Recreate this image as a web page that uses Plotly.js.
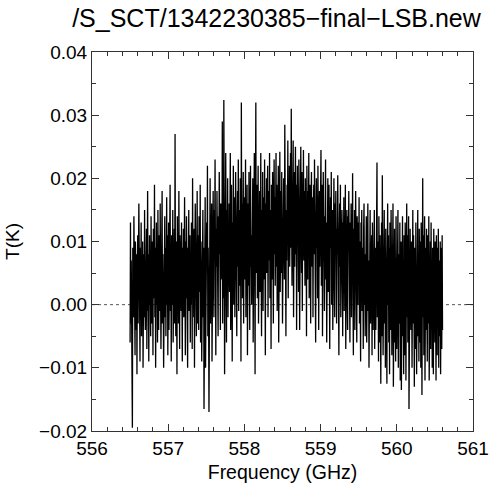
<!DOCTYPE html>
<html><head><meta charset="utf-8">
<script src="https://cdn.plot.ly/plotly-3.0.1.min.js"></script>
<style>body{margin:0;background:#fff}#c{width:500px;height:486px}</style>
</head><body><div id="c"></div>
<script>
// Spectrum channels: first channel frequency (GHz) and channel spacing (GHz)
const freqStart = 556.50;
const freqStep = 0.005;
// Antenna temperature per channel, in mK, 20 channels per row
const tempMilliK = [
 -6, 13, -3, 7, 1, -9, -19.5, 9, 4, -2, 14, 0, 6, -8, 10, 2, -4, 8, -11, 5,
 11, -3, 7, 16, -1, 5, -9, 9, 2, 13, -5, 6, 0, 10, -10, 4, 8, -2, 15, 1,
 -4, 9, 3, 12, -7, 6, 18, -1, 8, -9, 4, 11, 0, 7, -5, 14, 2, -3, 10, 5,
 -8, 12, 6, 1, 19, -2, 9, -10, 5, 13, 0, 8, -6, 15, 3, -4, 11, 7, -1, 16,
 2, -7, 10, 5, 18, -3, 8, 1, -10, 12, 6, 14, -2, 9, -5, 4, 17, 0, 11, -8,
 7, 13, -4, 9, 3, 19, -1, 6, -9, 11, 5, 0, 15, -6, 8, 2, 12, -3, 27, 4,
 -5, 10, 6, -11, 14, 1, 8, -3, 18, 4, -7, 11, 2, 7, -1, 13, 5, -9, 9, 0,
 12, -2, 6, 17, 3, -8, 10, 1, 14, -4, 7, -10, 9, 5, 15, -1, 4, 11, -6, 8,
 0, 13, 6, -7, 20, 3, 9, -2, 12, -10, 7, 16, 1, 10, -5, 5, 18, -3, 8, 11,
 -4, 14, 7, 2, 19, -6, 10, 4, -9, 12, 6, 15, -2, 9, -16.5, 11, 3, 17, -10, 8,
 1, 13, 6, 22, -5, 9, -1, -17, 14, 4, 20, -3, 10, 7, 16, -9, 11, 2, 18, 5,
 -2, 15, 9, 23, 3, -8, 12, 6, 18, 0, 11, -5, 14, 8, 21, 2, 10, -4, 16, 7,
 12, 4, 29, -3, 9, 1, 32.4, 14, -11, 19, 7, 24, 10, -6, 15, 6, 20, -2, 11, 3,
 16, 2, 11, 24, -4, 9, 19, 5, -9, 13, 7, 22, 0, 12, 17, -2, 10, 21, 4, 14,
 -5, 12, 18, 6, 23, -1, 9, 15, 3, 20, 11, -9, 32, 7, 16, 1, 13, 21, -3, 10,
 17, 4, 12, 23, -2, 14, 8, 19, -8, 10, 16, 3, 21, 9, -4, 13, 22, 6, 11, 0,
 15, 7, 20, -6, 12, 3, 24, 10, -11, 16, 32, 5, 13, 19, 1, 11, 22, -3, 14, 8,
 18, 2, 13, 24, 6, -5, 15, 10, 21, -1, 12, 17, 4, 23, 9, -8, 16, 11, 20, 5,
 14, 22, -2, 12, 18, 7, 24, 1, 15, 10, -7, 19, 13, 4, 21, 9, -3, 16, 23, 8,
 17, 3, 12, 24, 6, 19, -1, 14, 10, 22, -6, 15, 8, 24.2, 2, 13, 18, 5, 21, 11,
 -3, 16, 9, 20, 14, 4, 28.5, 12, 23, -5, 15, 7, 19, 10, 26, 1, 17, 13, 22, 6,
 18, 24, 9, 31, 14, 3, 20, 11, 26, -2, 16, 21, 6, 13, 25, 8, 19, -4, 15, 22,
 10, 17, 2, 23, 14, -4, 19, 8, 25, 12, 5, 21, -1, 16, 11, 24.5, 7, 18, 13, 3,
 20, 9, 15, -5, 22, 12, 4, 18, 10, 24, 1, 14, 19, 7, -3, 16, 21, 11, 6, 17,
 -2, 13, 19, 8, 23, 4, 15, -6, 12, 20, 9, 17, 1, 22, 11, -4, 14, 18, 6, 10,
 16, 24.5, 3, 12, 19, -5, 10, 21, 7, 14, -1, 18, 9, 23, 4, 13, -6, 15, 8, 20,
 2, 14, 19, 6, -7, 12, 17, 9, 21, 0, 11, 15, -4, 13, 7, 20, 4, -2, 16, 10,
 18, 5, -3, 12, 8, 20.5, 1, 14, -8, 10, 16, 6, 19, -2, 11, 4, 15, 9, -5, 13,
 7, 17, -1, 11, 4, 19, -7, 12, 8, 15, 2, -4, 14, 9, 18, 0, 10, -6, 13, 5,
 16, -2, 10, 6, 20.8, 1, -8, 12, 4, 15, -4, 9, 18, 3, 11, -6, 14, 7, 0, 13,
 5, 17, -3, 10, 2, -9, 13, 7, 15, -1, 9, 4, -7, 12, 16, 0, 8, -5, 11, 3,
 14, -6, 9, 2, 16, -1, 7, -10, 12, 4, 15, -3, 8, 0, 11, -8, 13, 5, -4, 10,
 1, 15, -7, 9, 3, -4, 12, 6, 22.5, -2, 10, 4, -9, 14, 7, -6, 11, 0, -12.5, 8,
 13, -5, 20.5, 6, -8, 10, 2, 15, -3, 9, -10, 12, 4, -1, -12.5, 7, 16, 0, 11, -6,
 9, -11, 13, 3, -4, 15, 6, -8, 11, 0, 16, -13, 8, 2, 12, -6, 5, -9, 14, 1,
 -7, 12, 4, 15, -10, 8, 1, -3, 13, -12, 6, 10, -13.5, 9, 3, 14, -5, 7, -11, 11,
 2, -8, 13, 5, -12, 9, 16, -2, 11, -6, 4, 14, -16.5, 7, -9, 12, 1, -4, 10, 6,
 -10, 8, 15, -3, 11, 2, -13, 9, 5, -7, 13, 0, -11, 10, 4, 15, -5, 7, -9, 12,
 1, -6, 10, -10, 13, 4, -14.3, 8, 20, -2, 11, -8, 6, 14, -12, 3, 9, -4, 12, 0,
 -9, 11, 5, -3, 14, -12, 7, 1, 10, -7, 13, -1, 6, -10, 9, 3, -11, 12, -4, 8,
 -6, 10, 2, -12, 11, 5, -8, 9, -2, 12, -10, 4, 7, -5, 10, -11, 3, 9, -7, 11,
 -4
];
const titleText = "/S_SCT/1342230385\u2212final\u2212LSB.new";
const xTitle = "Frequency (GHz)";
const yTitle = "T(K)";

const freq = tempMilliK.map((_, i) => freqStart + i * freqStep);
const tempK = tempMilliK.map(v => v / 1000);

const font = {family: "Liberation Sans, Arial, sans-serif", color: "#000"};
const axisCommon = {
  showgrid: false, zeroline: false, showline: true, linecolor: "#333", linewidth: 1,
  mirror: "allticks", ticks: "inside", ticklen: 7, tickcolor: "#333", tickwidth: 1,
  tickfont: Object.assign({size: 19}, font),
  minor: {ticks: "inside", ticklen: 4, tickcolor: "#333", showgrid: false}
};

const layout = Object.assign({
  width: 500, height: 486,
  margin: {l: 92, r: 27, t: 52, b: 55},
  paper_bgcolor: "#fff", plot_bgcolor: "#fff",
  showlegend: false,
  title: {text: titleText, font: Object.assign({size: 25}, font),
          xref: "container", x: 0.553, xanchor: "center", yref: "container", y: 0.962, yanchor: "middle"},
  xaxis: Object.assign({}, axisCommon, {
    range: [556, 561], dtick: 1, tick0: 556,
    minor: Object.assign({}, axisCommon.minor, {dtick: 0.2}),
    title: {text: xTitle, font: Object.assign({size: 19.5}, font), standoff: 7}
  }),
  yaxis: Object.assign({}, axisCommon, {
    range: [-0.02, 0.04], dtick: 0.01, tick0: 0, tickformat: ".2f",
    minor: Object.assign({}, axisCommon.minor, {dtick: 0.005}),
    title: {text: yTitle, font: Object.assign({size: 19}, font), standoff: 14}
  }),
  shapes: [{type: "line", xref: "paper", x0: 0, x1: 1, yref: "y", y0: 0, y1: 0,
            line: {color: "#555", width: 1, dash: "dot"}, layer: "below"}]
});

Plotly.newPlot("c", [{
  x: freq, y: tempK, type: "scatter", mode: "lines",
  line: {color: "#000", width: 1.3}, hoverinfo: "skip"
}], layout, {staticPlot: true, displayModeBar: false});
</script></body></html>
